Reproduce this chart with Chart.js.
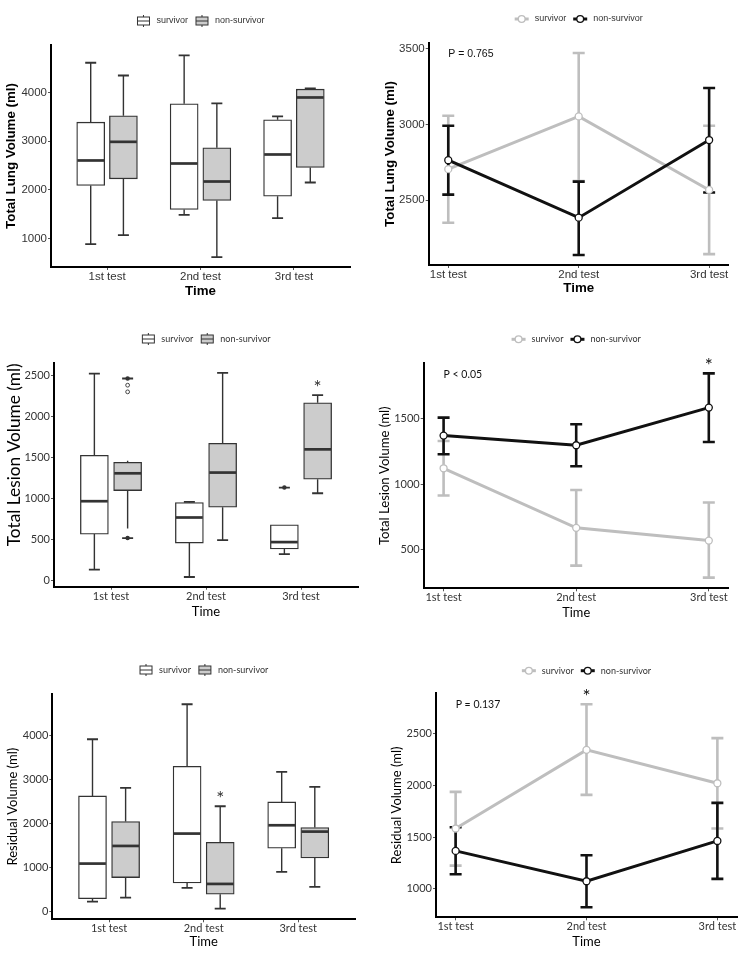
<!DOCTYPE html>
<html>
<head>
<meta charset="utf-8">
<script src="https://cdn.jsdelivr.net/npm/chart.js@4.4.1/dist/chart.umd.min.js"></script>
<style>
  body { margin: 0; background: #fff; width: 744px; height: 956px; position: relative; overflow: hidden; }
  canvas { position: absolute; }
</style>
</head>
<body>
<canvas id="lungBox" width="372" height="316" style="left:0;top:0"></canvas>
<canvas id="lungLine" width="372" height="316" style="left:372px;top:0"></canvas>
<canvas id="lesionBox" width="372" height="316" style="left:0;top:320px"></canvas>
<canvas id="lesionLine" width="372" height="316" style="left:372px;top:320px"></canvas>
<canvas id="residualBox" width="372" height="316" style="left:0;top:640px"></canvas>
<canvas id="residualLine" width="372" height="316" style="left:372px;top:640px"></canvas>
<script>
const timeLabels = ["1st test", "2nd test", "3rd test"];
const groupLabels = ["survivor", "non-survivor"];

// box plots, one entry per test: [lower whisker, Q1, median, Q3, upper whisker]
const lungBoxSurvivor = [[884, 2089, 2603, 3390, 4610], [1486, 1596, 2541, 3767, 4760], [1418, 1870, 2726, 3438, 3507]];
const lungBoxNonSurvivor = [[1068, 2226, 2986, 3521, 4349], [616, 1781, 2171, 2863, 3774], [2151, 2459, 3897, 4068, 4082]];
const lungBoxTicks = [1000, 2000, 3000, 4000];

const lesionBoxSurvivor = [[137, 569, 969, 1527, 2520], [48, 460, 771, 953, 961], [327, 388, 472, 682, 682]];
const lesionBoxNonSurvivor = [[638, 1098, 1308, 1442, 1462], [497, 897, 1317, 1672, 2528], [1066, 1236, 1599, 2165, 2258]];
// error bar caps where they sit away from the whiskers
const lesionCapsSurvivor = [[137, 2520], [48, 961], [327, 1135]];
const lesionCapsNonSurvivor = [[521, 2460], [497, 2528], [1066, 2258]];
const lesionDotsSurvivor = [[], [], [1135]];
const lesionDotsNonSurvivor = [[521, 2460], [], []];
const lesionRingsNonSurvivor = [[2379, 2298], [], []];
const lesionBoxStars = ["", "", "*"];
const lesionBoxTicks = [0, 500, 1000, 1500, 2000, 2500];

const residualBoxSurvivor = [[227, 295, 1091, 2629, 3917], [538, 652, 1773, 3303, 4712], [902, 1439, 1962, 2492, 3174]];
const residualBoxNonSurvivor = [[318, 773, 1492, 2045, 2811], [68, 394, 629, 1576, 2394], [561, 1220, 1818, 1909, 2833]];
const residualBoxStars = ["", "*", ""];
const residualBoxTicks = [0, 1000, 2000, 3000, 4000];

// mean with error bars
const lungSurvivorMean = [2705, 3053, 2568];
const lungSurvivorLow = [2352, 2626, 2145];
const lungSurvivorHigh = [3057, 3471, 2991];
const lungNonSurvivorMean = [2764, 2385, 2897];
const lungNonSurvivorLow = [2537, 2139, 2551];
const lungNonSurvivorHigh = [2991, 2623, 3240];
const lungLineTicks = [2500, 3000, 3500];
const lungLineStars = ["", "", ""];
const lungP = "P = 0.765";

const lesionSurvivorMean = [1121, 664, 566];
const lesionSurvivorLow = [912, 374, 282];
const lesionSurvivorHigh = [1331, 955, 858];
const lesionNonSurvivorMean = [1372, 1298, 1587];
const lesionNonSurvivorLow = [1229, 1137, 1323];
const lesionNonSurvivorHigh = [1510, 1459, 1850];
const lesionLineTicks = [500, 1000, 1500];
const lesionLineStars = ["", "", "*"];
const lesionP = "P < 0.05";

const residualSurvivorMean = [1583, 2342, 2020];
const residualSurvivorLow = [1225, 1908, 1583];
const residualSurvivorHigh = [1937, 2783, 2455];
const residualNonSurvivorMean = [1367, 1074, 1463];
const residualNonSurvivorLow = [1142, 823, 1097];
const residualNonSurvivorHigh = [1595, 1325, 1830];
const residualLineTicks = [1000, 1500, 2000, 2500];
const residualLineStars = ["", "*", ""];
const residualP = "P = 0.137";

const W = 372, H = 316;
const ARIAL = "'Liberation Sans', Arial, sans-serif";
const HUMANIST = "Lato, 'Open Sans', sans-serif";
const GREY = "#bebebe";
const BLACK = "#111111";
const INK = "#333333";

Chart.defaults.animation = false;
Chart.defaults.plugins.legend.display = false;
Chart.defaults.plugins.tooltip.enabled = false;

function drawKey(ctx, kind, ds, x, y, key) {
  ctx.save();
  if (kind === "box") {
    ctx.strokeStyle = INK;
    ctx.lineWidth = 1;
    ctx.fillStyle = ds.backgroundColor;
    ctx.fillRect(x + 1, y - 4, key - 2, 8);
    ctx.strokeRect(x + 1, y - 4, key - 2, 8);
    ctx.beginPath();
    ctx.moveTo(x + 1, y); ctx.lineTo(x + key - 1, y);
    ctx.moveTo(x + key / 2, y - 4); ctx.lineTo(x + key / 2, y - 6);
    ctx.moveTo(x + key / 2, y + 4); ctx.lineTo(x + key / 2, y + 6);
    ctx.stroke();
  } else {
    ctx.strokeStyle = ds.borderColor;
    ctx.lineWidth = 3;
    ctx.beginPath();
    ctx.moveTo(x, y); ctx.lineTo(x + key, y);
    ctx.stroke();
    ctx.fillStyle = "#fff";
    ctx.lineWidth = 1.3;
    ctx.beginPath();
    ctx.arc(x + key / 2, y, 3.4, 0, Math.PI * 2);
    ctx.fill();
    ctx.stroke();
  }
  ctx.restore();
}

const ggLegend = {
  id: "ggLegend",
  afterDraw(chart, args, o) {
    const { ctx, chartArea } = chart;
    const sets = chart.data.datasets.filter((d) => d.legend);
    const key = 14, gapKey = 6, gapItem = 7;
    ctx.save();
    ctx.font = `${o.size}px ${o.family}`;
    const widths = sets.map((d) => ctx.measureText(d.label).width);
    const total = widths.reduce((t, w) => t + key + gapKey + w, 0) + gapItem * (sets.length - 1);
    let x = (chartArea.left + chartArea.right) / 2 - total / 2;
    sets.forEach((d, i) => {
      drawKey(ctx, o.kind, d, x, o.y, key);
      ctx.fillStyle = INK;
      ctx.textAlign = "left";
      ctx.textBaseline = "middle";
      ctx.fillText(d.label, x + key + gapKey, o.y);
      x += key + gapKey + widths[i] + gapItem;
    });
    ctx.restore();
  },
};

const boxParts = {
  id: "boxParts",
  beforeDatasetsDraw(chart) {
    const { ctx } = chart;
    const y = chart.scales.y;
    ctx.save();
    ctx.strokeStyle = INK;
    chart.data.datasets.forEach((ds, di) => {
      chart.getDatasetMeta(di).data.forEach((el, i) => {
        const s = ds.stats[i];
        const cap = ds.caps ? ds.caps[i] : [s[0], s[4]];
        ctx.lineWidth = 1.4;
        ctx.beginPath();
        ctx.moveTo(el.x, y.getPixelForValue(s[3]));
        ctx.lineTo(el.x, y.getPixelForValue(s[4]));
        ctx.moveTo(el.x, y.getPixelForValue(s[1]));
        ctx.lineTo(el.x, y.getPixelForValue(s[0]));
        ctx.stroke();
        ctx.lineWidth = 1.8;
        ctx.beginPath();
        cap.forEach((c) => {
          ctx.moveTo(el.x - 5.5, y.getPixelForValue(c));
          ctx.lineTo(el.x + 5.5, y.getPixelForValue(c));
        });
        ctx.stroke();
      });
    });
    ctx.restore();
  },
  afterDatasetsDraw(chart, args, o) {
    const { ctx } = chart;
    const y = chart.scales.y;
    ctx.save();
    chart.data.datasets.forEach((ds, di) => {
      chart.getDatasetMeta(di).data.forEach((el, i) => {
        const s = ds.stats[i];
        const half = el.width / 2;
        ctx.strokeStyle = INK;
        ctx.lineWidth = 2.7;
        ctx.beginPath();
        ctx.moveTo(el.x - half + 0.6, y.getPixelForValue(s[2]));
        ctx.lineTo(el.x + half - 0.6, y.getPixelForValue(s[2]));
        ctx.stroke();
        ctx.fillStyle = INK;
        (ds.dots ? ds.dots[i] : []).forEach((v) => {
          ctx.beginPath();
          ctx.arc(el.x, y.getPixelForValue(v), 2.2, 0, Math.PI * 2);
          ctx.fill();
        });
        ctx.lineWidth = 0.9;
        (ds.rings ? ds.rings[i] : []).forEach((v) => {
          ctx.beginPath();
          ctx.arc(el.x, y.getPixelForValue(v), 1.9, 0, Math.PI * 2);
          ctx.stroke();
        });
        if (ds.stars && ds.stars[i]) {
          const cap = ds.caps ? ds.caps[i][1] : s[4];
          ctx.font = `${o.starSize}px ${o.family}`;
          ctx.textAlign = "center";
          ctx.textBaseline = "middle";
          ctx.fillText(ds.stars[i], el.x, y.getPixelForValue(cap) - 7);
        }
      });
    });
    ctx.restore();
  },
};

const errorBars = {
  id: "errorBars",
  beforeDatasetsDraw(chart) {
    const { ctx } = chart;
    const x = chart.scales.x, y = chart.scales.y;
    ctx.save();
    ctx.lineWidth = 2.6;
    chart.data.datasets.filter((d) => d.low).forEach((ds) => {
      ctx.strokeStyle = ds.borderColor;
      ds.low.forEach((lo, i) => {
        const px = x.getPixelForValue(i + 1);
        const y0 = y.getPixelForValue(lo), y1 = y.getPixelForValue(ds.high[i]);
        ctx.beginPath();
        ctx.moveTo(px, y0); ctx.lineTo(px, y1);
        ctx.moveTo(px - 6, y0); ctx.lineTo(px + 6, y0);
        ctx.moveTo(px - 6, y1); ctx.lineTo(px + 6, y1);
        ctx.stroke();
      });
    });
    ctx.restore();
  },
  afterDraw(chart, args, o) {
    const { ctx, chartArea } = chart;
    const x = chart.scales.x, y = chart.scales.y;
    const bars = chart.data.datasets.filter((d) => d.high);
    ctx.save();
    ctx.fillStyle = BLACK;
    ctx.textBaseline = "middle";
    ctx.textAlign = "left";
    ctx.font = `${o.pSize}px ${o.family}`;
    ctx.fillText(o.pText, x.getPixelForValue(1), chartArea.top + 11);
    ctx.textAlign = "center";
    ctx.font = `${o.starSize}px ${o.family}`;
    o.stars.forEach((s, i) => {
      if (!s) return;
      const top = Math.min(...bars.map((d) => y.getPixelForValue(d.high[i])));
      ctx.fillText(s, x.getPixelForValue(i + 1), top - 7);
    });
    ctx.restore();
  },
};

function frame(p, kind) {
  const tickFont = { family: p.family, size: p.tick };
  const weight = p.bold ? "bold" : "normal";
  const axisGrid = { display: true, drawOnChartArea: false, drawTicks: true, tickLength: 3, color: "#555", lineWidth: 1, offset: false };
  const axisBorder = { display: true, color: "#000", width: 2 };
  return {
    responsive: false,
    layout: { padding: { left: 0, top: p.area[1], right: W - p.area[2], bottom: 0 } },
    plugins: {
      ggLegend: { y: p.legendY, kind, family: p.family, size: p.legend },
      boxParts: { family: p.family, starSize: 19 },
      errorBars: { family: p.family, pSize: p.pSize, pText: p.pText, stars: p.stars || [], starSize: 19 },
    },
    scales: {
      x: {
        type: "linear",
        min: p.xRange[0],
        max: p.xRange[1],
        offset: false,
        afterFit: (s) => { s.height = H - p.area[3]; },
        afterBuildTicks: (s) => { s.ticks = timeLabels.map((t, i) => ({ value: i + 1 })); },
        ticks: { callback: (v) => timeLabels[v - 1], autoSkip: false, maxRotation: 0, padding: 0, color: INK, font: tickFont },
        grid: axisGrid,
        border: axisBorder,
        title: { display: true, text: "Time", color: "#000", font: { family: p.family, size: p.xTitleSize, weight }, padding: { top: 0, bottom: p.xTitlePad } },
      },
      y: {
        type: "linear",
        min: p.yRange[0],
        max: p.yRange[1],
        afterFit: (s) => { s.width = p.area[0]; },
        afterBuildTicks: (s) => { s.ticks = p.yTicks.map((v) => ({ value: v })); },
        ticks: { callback: (v) => String(v), padding: 1, color: INK, font: tickFont },
        grid: axisGrid,
        border: axisBorder,
        title: { display: true, text: p.yTitle, align: p.yTitleAlign || "center", color: "#000", font: { family: p.family, size: p.yTitleSize, weight }, padding: { top: p.yTitlePad, bottom: 0 } },
      },
    },
  };
}

function boxChart(id, p) {
  const boxes = (stats, shift) => stats.map((s, i) => ({ x: i + 1 + shift, y: [s[1], s[3]] }));
  const style = { borderColor: INK, borderWidth: 1.3, borderSkipped: false, barThickness: 28, grouped: false, legend: true };
  return new Chart(document.getElementById(id), {
    type: "bar",
    data: {
      datasets: [
        { ...style, label: groupLabels[0], data: boxes(p.survivor, -0.175), stats: p.survivor, caps: p.capsS, dots: p.dotsS, backgroundColor: "#ffffff" },
        { ...style, label: groupLabels[1], data: boxes(p.nonSurvivor, 0.175), stats: p.nonSurvivor, caps: p.capsN, dots: p.dotsN, rings: p.ringsN, stars: p.stars, backgroundColor: "#cccccc" },
      ],
    },
    options: frame(p, "box"),
    plugins: [boxParts, ggLegend],
  });
}

function lineChart(id, p) {
  const pts = (arr) => arr.map((v, i) => ({ x: i + 1, y: v }));
  const line = { type: "line", borderWidth: 3, pointRadius: 0, legend: true };
  const dot = { type: "line", showLine: false, pointRadius: 3.5, pointBorderWidth: 1.3, pointBackgroundColor: "#ffffff" };
  return new Chart(document.getElementById(id), {
    type: "line",
    data: {
      datasets: [
        { ...line, label: groupLabels[0], data: pts(p.sMean), low: p.sLow, high: p.sHigh, borderColor: GREY, order: 4 },
        { ...line, label: groupLabels[1], data: pts(p.nMean), low: p.nLow, high: p.nHigh, borderColor: BLACK, order: 3 },
        { ...dot, label: groupLabels[0], data: pts(p.sMean), pointBorderColor: GREY, order: 2 },
        { ...dot, label: groupLabels[1], data: pts(p.nMean), pointBorderColor: BLACK, order: 1 },
      ],
    },
    options: frame(p, "line"),
    plugins: [errorBars, ggLegend],
  });
}

boxChart("lungBox", {
  survivor: lungBoxSurvivor, nonSurvivor: lungBoxNonSurvivor, yTicks: lungBoxTicks,
  yRange: [415, 4975], xRange: [0.4, 3.6], area: [51, 45, 350, 267],
  yTitle: "Total Lung Volume (ml)", family: ARIAL, bold: true, tick: 11.5, yTitleSize: 13.3, xTitleSize: 13.3, legend: 9,
  legendY: 21, yTitlePad: 3.7, xTitlePad: 17,
});

lineChart("lungLine", {
  sMean: lungSurvivorMean, sLow: lungSurvivorLow, sHigh: lungSurvivorHigh,
  nMean: lungNonSurvivorMean, nLow: lungNonSurvivorLow, nHigh: lungNonSurvivorHigh,
  yTicks: lungLineTicks, stars: lungLineStars, pText: lungP,
  yRange: [2073, 3537], xRange: [0.85, 3.15], area: [56.7, 43, 356.7, 265],
  yTitle: "Total Lung Volume (ml)", family: ARIAL, bold: true, tick: 11.5, yTitleSize: 13.3, xTitleSize: 13.3, legend: 9, pSize: 10.5,
  legendY: 19, yTitlePad: 10.3, xTitlePad: 19.7,
});

boxChart("lesionBox", {
  survivor: lesionBoxSurvivor, nonSurvivor: lesionBoxNonSurvivor, yTicks: lesionBoxTicks,
  capsS: lesionCapsSurvivor, capsN: lesionCapsNonSurvivor, dotsS: lesionDotsSurvivor,
  dotsN: lesionDotsNonSurvivor, ringsN: lesionRingsNonSurvivor, stars: lesionBoxStars,
  yRange: [-70, 2645], xRange: [0.4, 3.6], area: [54, 43.3, 358, 266.7],
  yTitle: "Total Lesion Volume (ml)", yTitleAlign: "end", family: HUMANIST, bold: false, tick: 11, yTitleSize: 17.3, xTitleSize: 13, legend: 9,
  legendY: 19, yTitlePad: 4.5, xTitlePad: 16.5,
});

lineChart("lesionLine", {
  sMean: lesionSurvivorMean, sLow: lesionSurvivorLow, sHigh: lesionSurvivorHigh,
  nMean: lesionNonSurvivorMean, nLow: lesionNonSurvivorLow, nHigh: lesionNonSurvivorHigh,
  yTicks: lesionLineTicks, stars: lesionLineStars, pText: lesionP,
  yRange: [200, 1927], xRange: [0.85, 3.15], area: [51.7, 43.3, 356.7, 268.3],
  yTitle: "Total Lesion Volume (ml)", family: HUMANIST, bold: false, tick: 11, yTitleSize: 13.1, xTitleSize: 12.8, legend: 9, pSize: 10.5,
  legendY: 19.3, yTitlePad: 5.4, xTitlePad: 15.5,
});

boxChart("residualBox", {
  survivor: residualBoxSurvivor, nonSurvivor: residualBoxNonSurvivor, yTicks: residualBoxTicks,
  stars: residualBoxStars,
  yRange: [-175, 4945], xRange: [0.4, 3.6], area: [52.3, 54, 355, 279.3],
  yTitle: "Residual Volume (ml)", family: HUMANIST, bold: false, tick: 11, yTitleSize: 13, xTitleSize: 13, legend: 9,
  legendY: 30, yTitlePad: 5.5, xTitlePad: 5.9,
});

lineChart("residualLine", {
  sMean: residualSurvivorMean, sLow: residualSurvivorLow, sHigh: residualSurvivorHigh,
  nMean: residualNonSurvivorMean, nLow: residualNonSurvivorLow, nHigh: residualNonSurvivorHigh,
  yTicks: residualLineTicks, stars: residualLineStars, pText: residualP,
  yRange: [726, 2888], xRange: [0.85, 3.15], area: [64, 53.3, 365, 277.3],
  yTitle: "Residual Volume (ml)", family: HUMANIST, bold: false, tick: 11, yTitleSize: 13, xTitleSize: 13, legend: 9, pSize: 10.5,
  legendY: 30.7, yTitlePad: 17.2, xTitlePad: 6.5,
});
</script>
</body>
</html>
